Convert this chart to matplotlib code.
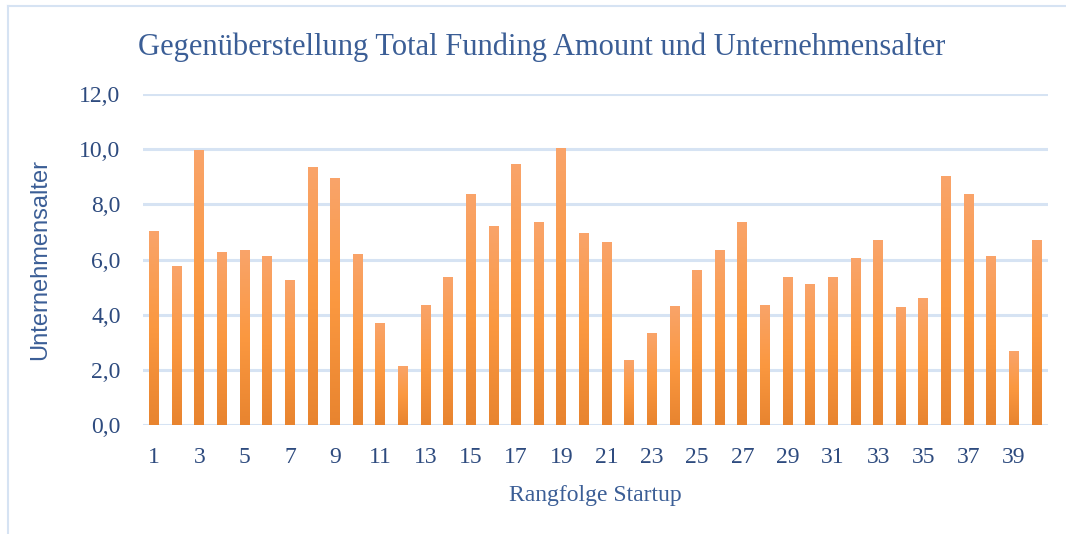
import matplotlib
matplotlib.use("Agg")
import matplotlib.pyplot as plt
import numpy as np
from matplotlib.colors import LinearSegmentedColormap
from matplotlib.lines import Line2D

# Rangfolge Startup 1..40 und Unternehmensalter (Jahre)
rang = list(range(1, 41))
alter = [7.03, 5.76, 9.96, 6.27, 6.34, 6.12, 5.25, 9.35, 8.95, 6.20,
         3.70, 2.14, 4.35, 5.36, 8.37, 7.21, 9.46, 7.36, 10.04, 6.96,
         6.63, 2.36, 3.33, 4.31, 5.62, 6.34, 7.36, 4.35, 5.36, 5.11,
         5.36, 6.05, 6.70, 4.28, 4.60, 9.02, 8.37, 6.12, 2.68, 6.70]
y_ticks = [0, 2, 4, 6, 8, 10, 12]
x_ticks = list(range(1, 40, 2))

title_col = "#3B5E96"
tick_col = "#2E4B7F"
grid_col = "#D6E3F3"

fig = plt.figure(figsize=(10.66, 5.34), dpi=100)
ax = fig.add_axes([0.134, 0.204, 0.849, 0.62])

bars = ax.bar(rang, alter, width=0.44, color="none", zorder=3)

# Farbverlauf wie in Excel: oben hell, Mitte satt, unten dunkler
grad = LinearSegmentedColormap.from_list("g", ["#E8842F", "#FB9840", "#F9A46A"])
img = np.linspace(0, 1, 256).reshape(-1, 1)
for b in bars:
    x0, w, h = b.get_x(), b.get_width(), b.get_height()
    im = ax.imshow(img, cmap=grad, origin="lower", aspect="auto",
                   extent=[x0, x0 + w, 0, h], zorder=3)
    im.set_clip_path(b)

ax.set_xlim(0.5, 40.5)
ax.set_ylim(0, 12)
ax.set_yticks(y_ticks)
ax.set_yticklabels([f"{v:.1f}".replace(".", ",") for v in y_ticks])
ax.set_xticks(x_ticks)
ax.tick_params(length=0, colors=tick_col, labelsize=17, pad=16)
ax.tick_params(axis="y", pad=16)
for lab in ax.get_xticklabels() + ax.get_yticklabels():
    lab.set_family("Liberation Serif")

ax.grid(axis="y", color=grid_col, linewidth=2.2, zorder=0)
for s in ax.spines.values():
    s.set_visible(False)

ax.set_xlabel("Rangfolge Startup", family="Liberation Serif", fontsize=17,
              color=title_col, labelpad=12)
ax.set_ylabel("Unternehmensalter", family="Liberation Sans", fontsize=17,
              color=title_col, labelpad=20)

fig.text(0.508, 0.912, "Gegenüberstellung Total Funding Amount und Unternehmensalter",
         family="Liberation Serif", fontsize=22, color=title_col,
         ha="center", va="center")

# Rahmen des Diagrammbereichs (oben und links)
fig.add_artist(Line2D([8 / 1066, 1.0], [1 - 6 / 534, 1 - 6 / 534],
                      transform=fig.transFigure, color=grid_col, linewidth=1.5))
fig.add_artist(Line2D([8 / 1066, 8 / 1066], [0, 1 - 6 / 534],
                      transform=fig.transFigure, color=grid_col, linewidth=1.5))

fig.savefig("out.png", dpi=100)
